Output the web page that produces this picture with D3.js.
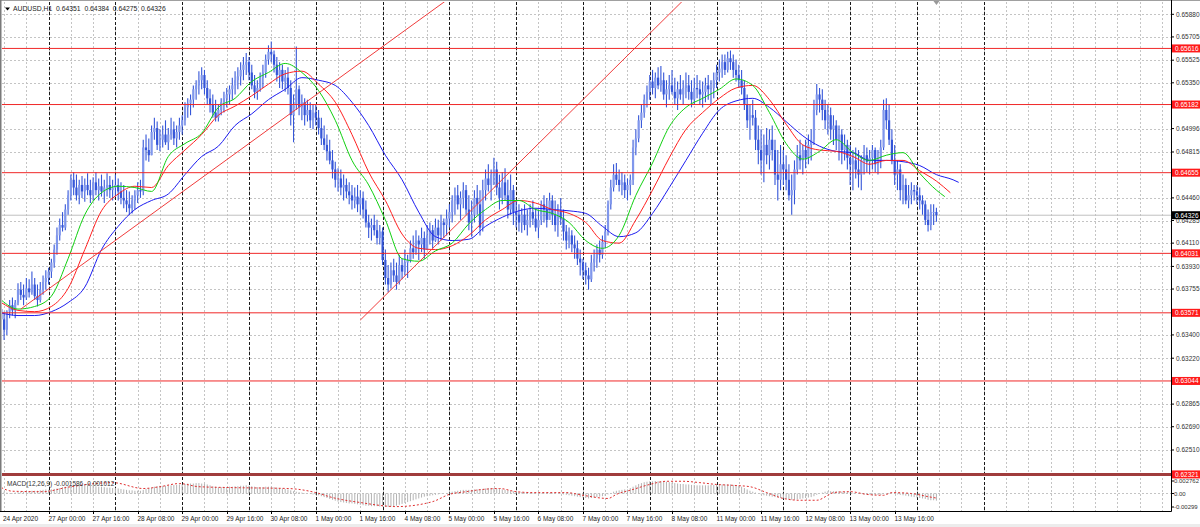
<!DOCTYPE html>
<html><head><meta charset="utf-8">
<script src="https://cdn.jsdelivr.net/npm/d3@7/dist/d3.min.js"></script>
<style>
html,body{margin:0;padding:0;background:#fff;overflow:hidden}
svg{display:block}
text{font-family:"Liberation Sans",Arial,Helvetica,sans-serif;white-space:pre;}
</style></head><body>
<script>
// ---------------- DATA ----------------
const symbolTitle = "AUDUSD,H1";
const lastQuote = ["0.64351","0.64384","0.64275","0.64326"];
const firstOpen = 0.6360;
const highs = [
0.6363,0.6358,0.6359,0.6367,0.6369,0.6367,0.6380,0.6381,0.6379,0.6384,0.6383,0.6389,0.6384,0.6379,0.6381,0.6386,0.6390,
0.6392,0.6399,0.6410,0.6423,0.6430,0.6435,0.6441,0.6452,0.6464,0.6466,0.6464,0.6460,0.6463,0.6461,0.6465,0.6460,0.6462,0.6466,0.6461,0.6464,0.6460,0.6465,0.6463,0.6460,
0.6464,0.6461,0.6458,0.6456,0.6452,0.6451,0.6448,0.6452,0.6458,0.6460,0.6491,0.6495,0.6492,0.6502,0.6508,0.6505,0.6499,0.6502,0.6506,0.6500,0.6508,0.6505,0.6502,0.6508,
0.6510,0.6520,0.6523,0.6526,0.6533,0.6537,0.6544,0.6547,0.6545,0.6537,0.6530,0.6526,0.6522,0.6518,0.6523,0.6528,0.6531,0.6533,0.6539,0.6544,0.6547,0.6551,0.6555,0.6558,
0.6555,0.6549,0.6541,0.6537,0.6543,0.6549,0.6557,0.6564,0.6567,0.6560,0.6555,0.6551,0.6549,0.6545,0.6547,0.6537,0.6526,0.6563,0.6533,0.6526,0.6523,0.6522,0.6520,0.6518,
0.6518,0.6514,0.6508,0.6502,0.6495,0.6491,0.6483,0.6474,0.6469,0.6468,0.6464,0.6461,0.6458,0.6456,0.6454,0.6456,0.6452,0.6451,0.6444,0.6433,0.6430,0.6433,0.6429,0.6425,
0.6423,0.6406,0.6394,0.6396,0.6399,0.6396,0.6402,0.6399,0.6406,0.6402,0.6413,0.6417,0.6421,0.6417,0.6423,0.6420,0.6425,0.6427,0.6425,0.6430,0.6429,0.6433,0.6430,0.6437,
0.6441,0.6448,0.6454,0.6456,0.6451,0.6458,0.6456,0.6448,0.6444,0.6452,0.6456,0.6452,0.6460,0.6468,0.6472,0.6468,0.6477,0.6474,0.6464,0.6466,0.6469,0.6460,0.6464,0.6456,
0.6444,0.6441,0.6438,0.6441,0.6437,0.6441,0.6444,0.6438,0.6437,0.6444,0.6448,0.6446,0.6450,0.6448,0.6444,0.6441,0.6446,0.6437,0.6425,0.6423,0.6421,0.6417,0.6413,0.6406,
0.6399,0.6396,0.6392,0.6402,0.6406,0.6410,0.6413,0.6417,0.6425,0.6444,0.6460,0.6472,0.6473,0.6468,0.6466,0.6464,0.6461,0.6464,0.6491,0.6499,0.6510,0.6518,0.6526,0.6533,
0.6541,0.6545,0.6543,0.6547,0.6548,0.6543,0.6537,0.6541,0.6545,0.6539,0.6536,0.6541,0.6537,0.6543,0.6541,0.6537,0.6539,0.6541,0.6537,0.6536,0.6539,0.6541,0.6537,0.6543,
0.6549,0.6553,0.6557,0.6557,0.6559,0.6560,0.6557,0.6553,0.6549,0.6545,0.6537,0.6526,0.6518,0.6522,0.6514,0.6502,0.6499,0.6495,0.6500,0.6499,0.6502,0.6491,0.6483,0.6487,
0.6483,0.6479,0.6472,0.6464,0.6475,0.6487,0.6491,0.6487,0.6491,0.6495,0.6499,0.6522,0.6534,0.6531,0.6530,0.6522,0.6518,0.6516,0.6510,0.6506,0.6502,0.6499,0.6495,0.6491,
0.6487,0.6483,0.6485,0.6483,0.6479,0.6487,0.6485,0.6483,0.6487,0.6485,0.6483,0.6491,0.6522,0.6523,0.6518,0.6499,0.6487,0.6475,0.6472,0.6464,0.6461,0.6456,0.6458,0.6456,
0.6456,0.6454,0.6448,0.6444,0.6437,0.6441,0.6441,0.64384];
const lows = [
0.6348,0.6336,0.6340,0.6353,0.6355,0.6353,0.6363,0.6367,0.6363,0.6367,0.6369,0.6371,0.6367,0.6362,0.6365,0.6371,0.6375,
0.6379,0.6384,0.6392,0.6402,0.6413,0.6420,0.6421,0.6433,0.6444,0.6448,0.6444,0.6441,0.6446,0.6443,0.6448,0.6442,0.6444,0.6448,0.6444,0.6447,0.6442,0.6447,0.6446,0.6444,
0.6447,0.6444,0.6441,0.6438,0.6435,0.6433,0.6434,0.6437,0.6442,0.6446,0.6448,0.6475,0.6474,0.6479,0.6491,0.6483,0.6482,0.6485,0.6487,0.6483,0.6491,0.6487,0.6485,0.6491,
0.6495,0.6502,0.6508,0.6510,0.6516,0.6522,0.6526,0.6530,0.6526,0.6518,0.6512,0.6508,0.6505,0.6505,0.6510,0.6512,0.6516,0.6518,0.6522,0.6526,0.6530,0.6533,0.6537,0.6541,
0.6537,0.6530,0.6523,0.6522,0.6528,0.6531,0.6539,0.6549,0.6551,0.6543,0.6536,0.6531,0.6530,0.6528,0.6526,0.6502,0.6489,0.6514,0.6510,0.6506,0.6502,0.6505,0.6500,0.6499,
0.6502,0.6495,0.6487,0.6483,0.6475,0.6472,0.6461,0.6454,0.6451,0.6448,0.6444,0.6446,0.6441,0.6437,0.6438,0.6435,0.6433,0.6430,0.6423,0.6415,0.6413,0.6417,0.6410,0.6410,
0.6394,0.6379,0.6373,0.6376,0.6381,0.6375,0.6379,0.6383,0.6386,0.6384,0.6396,0.6399,0.6402,0.6398,0.6404,0.6399,0.6406,0.6410,0.6407,0.6412,0.6410,0.6413,0.6415,0.6417,
0.6423,0.6427,0.6433,0.6437,0.6429,0.6438,0.6433,0.6421,0.6416,0.6427,0.6433,0.6417,0.6420,0.6444,0.6451,0.6444,0.6456,0.6448,0.6437,0.6441,0.6444,0.6430,0.6433,0.6425,
0.6423,0.6420,0.6419,0.6421,0.6417,0.6423,0.6425,0.6420,0.6415,0.6425,0.6427,0.6423,0.6430,0.6425,0.6420,0.6416,0.6425,0.6413,0.6406,0.6407,0.6404,0.6399,0.6394,0.6386,
0.6383,0.6379,0.6375,0.6381,0.6389,0.6392,0.6396,0.6399,0.6407,0.6417,0.6437,0.6451,0.6456,0.6451,0.6448,0.6446,0.6444,0.6448,0.6456,0.6479,0.6489,0.6500,0.6508,0.6516,
0.6522,0.6526,0.6523,0.6530,0.6528,0.6522,0.6516,0.6522,0.6526,0.6518,0.6514,0.6522,0.6518,0.6523,0.6522,0.6516,0.6518,0.6523,0.6518,0.6516,0.6520,0.6522,0.6518,0.6523,
0.6531,0.6536,0.6539,0.6541,0.6543,0.6545,0.6539,0.6536,0.6531,0.6526,0.6514,0.6500,0.6491,0.6502,0.6483,0.6472,0.6464,0.6458,0.6472,0.6468,0.6475,0.6456,0.6444,0.6452,
0.6456,0.6452,0.6444,0.6433,0.6441,0.6464,0.6468,0.6464,0.6469,0.6472,0.6475,0.6487,0.6510,0.6512,0.6506,0.6499,0.6495,0.6491,0.6487,0.6483,0.6475,0.6472,0.6475,0.6468,
0.6456,0.6452,0.6461,0.6454,0.6452,0.6464,0.6466,0.6464,0.6468,0.6466,0.6464,0.6469,0.6483,0.6499,0.6487,0.6472,0.6456,0.6452,0.6444,0.6441,0.6441,0.6438,0.6441,0.6444,
0.6441,0.6437,0.6433,0.6425,0.6420,0.6421,0.6425,0.64275];
const closes = [
0.6352,0.6344,0.6358,0.6363,0.6359,0.6365,0.6375,0.6371,0.6369,0.6376,0.6373,0.6379,0.6370,0.6367,0.6375,0.6381,0.6384,
0.6389,0.6396,0.6406,0.6417,0.6425,0.6423,0.6437,0.6448,0.6460,0.6454,0.6448,0.6456,0.6451,0.6456,0.6452,0.6448,0.6458,0.6452,0.6455,0.6451,0.6454,0.6456,0.6452,0.6454,
0.6456,0.6451,0.6446,0.6444,0.6441,0.6438,0.6444,0.6448,0.6452,0.6451,0.6485,0.6483,0.6479,0.6497,0.6500,0.6487,0.6491,0.6495,0.6489,0.6495,0.6499,0.6492,0.6497,0.6502,
0.6506,0.6516,0.6519,0.6522,0.6530,0.6533,0.6537,0.6541,0.6531,0.6523,0.6518,0.6512,0.6508,0.6514,0.6520,0.6523,0.6526,0.6530,0.6533,0.6537,0.6540,0.6545,0.6549,0.6551,
0.6543,0.6533,0.6528,0.6531,0.6539,0.6543,0.6553,0.6559,0.6557,0.6549,0.6541,0.6545,0.6536,0.6539,0.6531,0.6510,0.6518,0.6530,0.6516,0.6520,0.6510,0.6514,0.6506,0.6512,
0.6508,0.6500,0.6492,0.6487,0.6482,0.6475,0.6468,0.6460,0.6461,0.6454,0.6456,0.6451,0.6448,0.6444,0.6447,0.6441,0.6446,0.6437,0.6427,0.6423,0.6425,0.6421,0.6415,0.6420,
0.6398,0.6384,0.6379,0.6390,0.6386,0.6381,0.6394,0.6389,0.6396,0.6398,0.6407,0.6404,0.6413,0.6410,0.6415,0.6406,0.6417,0.6421,0.6413,0.6423,0.6417,0.6427,0.6425,0.6430,
0.6435,0.6444,0.6448,0.6441,0.6446,0.6452,0.6437,0.6427,0.6433,0.6446,0.6441,0.6423,0.6452,0.6461,0.6456,0.6464,0.6468,0.6454,0.6446,0.6458,0.6448,0.6437,0.6452,0.6435,
0.6433,0.6427,0.6433,0.6425,0.6429,0.6435,0.6430,0.6423,0.6429,0.6441,0.6437,0.6429,0.6444,0.6433,0.6425,0.6435,0.6430,0.6420,0.6413,0.6417,0.6410,0.6407,0.6399,0.6396,
0.6390,0.6386,0.6383,0.6396,0.6399,0.6406,0.6402,0.6412,0.6420,0.6441,0.6454,0.6464,0.6460,0.6456,0.6458,0.6452,0.6456,0.6460,0.6485,0.6492,0.6506,0.6512,0.6522,0.6528,
0.6536,0.6531,0.6539,0.6533,0.6537,0.6526,0.6530,0.6533,0.6528,0.6523,0.6530,0.6526,0.6531,0.6533,0.6528,0.6522,0.6531,0.6530,0.6526,0.6528,0.6533,0.6530,0.6531,0.6537,
0.6543,0.6546,0.6551,0.6545,0.6554,0.6551,0.6545,0.6541,0.6537,0.6531,0.6518,0.6506,0.6510,0.6508,0.6491,0.6483,0.6475,0.6487,0.6479,0.6491,0.6483,0.6464,0.6460,0.6472,
0.6468,0.6460,0.6448,0.6452,0.6468,0.6479,0.6475,0.6483,0.6477,0.6487,0.6491,0.6514,0.6526,0.6522,0.6514,0.6506,0.6510,0.6499,0.6502,0.6491,0.6495,0.6483,0.6487,0.6477,
0.6472,0.6475,0.6468,0.6464,0.6475,0.6479,0.6474,0.6477,0.6483,0.6472,0.6475,0.6485,0.6514,0.6506,0.6491,0.6475,0.6464,0.6468,0.6452,0.6456,0.6444,0.6448,0.6452,0.6451,
0.6448,0.6444,0.6441,0.6429,0.6425,0.6435,0.64351,0.64326];

// Alligator lines: [bar, price]
const jaw = [[0,0.6357],[6,0.6355],[12,0.6355],[18,0.6358],[24,0.6365],[30,0.6377],[36,0.6406],[42,0.6424],[48,0.6437],[54,0.6444],[60,0.6449],[66,0.6464],[72,0.6478],[78,0.6486],[84,0.6502],[90,0.6511],[96,0.6522],[102,0.6530],[108,0.6539],[114,0.6537],[120,0.6533],[126,0.6520],[132,0.6502],[138,0.6479],[144,0.6460],[150,0.6435],[156,0.6416],[162,0.6413],[168,0.6414],[174,0.6424],[180,0.6431],[186,0.6436],[192,0.6438],[198,0.6437],[204,0.6436],[210,0.6434],[216,0.6424],[222,0.6416],[228,0.6419],[234,0.6434],[240,0.6454],[246,0.6475],[252,0.6496],[258,0.6514],[264,0.6521],[270,0.6523],[276,0.6516],[282,0.6505],[288,0.6494],[294,0.6486],[300,0.6482],[306,0.6481],[312,0.6475],[318,0.6475],[324,0.6474],[330,0.6471],[336,0.6464],[342,0.6460],[344,0.6458]];
const teeth = [[0,0.6365],[6,0.6359],[12,0.6358],[18,0.6362],[24,0.6376],[30,0.6406],[36,0.6436],[42,0.6449],[48,0.6455],[54,0.6454],[60,0.6471],[66,0.6483],[72,0.6495],[78,0.6510],[84,0.6517],[90,0.6525],[96,0.6534],[102,0.6542],[108,0.6544],[114,0.6534],[120,0.6520],[126,0.6495],[132,0.6466],[138,0.6444],[144,0.6418],[150,0.6407],[156,0.6406],[162,0.6409],[168,0.6417],[174,0.6429],[180,0.6437],[186,0.6444],[192,0.6442],[198,0.6437],[204,0.6434],[210,0.6427],[216,0.6413],[222,0.6411],[228,0.6429],[234,0.6452],[240,0.6477],[246,0.6499],[252,0.6512],[258,0.6523],[264,0.6531],[270,0.6533],[276,0.6522],[282,0.6503],[288,0.6487],[294,0.6483],[300,0.6482],[306,0.6478],[312,0.6472],[318,0.6475],[324,0.6475],[330,0.6467],[336,0.6459],[341,0.6450]];
const lips = [[0,0.6367],[6,0.6360],[12,0.6362],[18,0.6370],[24,0.6399],[30,0.6433],[36,0.6450],[42,0.6455],[48,0.6454],[54,0.6451],[60,0.6478],[66,0.6488],[72,0.6496],[78,0.6516],[84,0.6523],[90,0.6536],[96,0.6543],[102,0.6550],[108,0.6543],[114,0.6529],[120,0.6506],[126,0.6475],[132,0.6456],[138,0.6429],[144,0.6399],[150,0.6397],[156,0.6405],[162,0.6411],[168,0.6426],[174,0.6437],[180,0.6444],[186,0.6444],[192,0.6437],[198,0.6434],[204,0.6427],[210,0.6413],[216,0.6407],[222,0.6417],[228,0.6448],[234,0.6473],[240,0.6501],[246,0.6516],[252,0.6523],[258,0.6530],[264,0.6538],[270,0.6533],[276,0.6512],[282,0.6488],[288,0.6476],[294,0.6482],[300,0.6491],[306,0.6481],[312,0.6475],[318,0.6479],[324,0.6481],[330,0.6465],[336,0.6452],[339,0.6447]];

// MACD(12,26,9) histogram, one value per bar
const macdHist = [
0.0006,0.0004,0.0002,0.0001,0.0001,0.0002,0.0003,0.0004,0.0004,0.0005,0.0005,0.0006,0.0006,0.0006,0.0007,0.0008,0.0009,
0.0008,0.0009,0.0010,0.0011,0.0012,0.0014,0.0015,0.0016,0.0017,0.0018,0.0019,0.0019,0.0019,0.0019,0.0018,0.0018,0.0017,0.0016,0.0015,0.0015,0.0014,0.0013,0.0013,0.0012,
0.0012,0.0011,0.0010,0.0009,0.0008,0.0007,0.0007,0.0006,0.0006,0.0006,0.0008,0.0010,0.0012,0.0013,0.0015,0.0016,0.0017,0.0017,0.0017,0.0018,0.0018,0.0019,0.0019,0.0020,
0.0020,0.0021,0.0022,0.0022,0.0022,0.0023,0.0023,0.0022,0.0021,0.0020,0.0018,0.0016,0.0015,0.0014,0.0014,0.0014,0.0014,0.0015,0.0015,0.0016,0.0016,0.0017,0.0017,0.0018,
0.0017,0.0016,0.0015,0.0014,0.0014,0.0014,0.0015,0.0015,0.0015,0.0014,0.0013,0.0012,0.0011,0.0010,0.0009,0.0007,0.0005,0.0004,0.0003,0.0002,0.0001,0.0000,-0.0001,-0.0002,
-0.0003,-0.0004,-0.0006,-0.0008,-0.0010,-0.0012,-0.0014,-0.0016,-0.0018,-0.0019,-0.0020,-0.0021,-0.0022,-0.0022,-0.0023,-0.0024,-0.0025,-0.0026,-0.0027,-0.0027,-0.0028,-0.0028,-0.0028,-0.0029,
-0.0029,-0.00299,-0.0030,-0.0029,-0.0028,-0.0027,-0.0025,-0.0023,-0.0021,-0.0019,-0.0017,-0.0015,-0.0013,-0.0011,-0.0009,-0.0007,-0.0006,-0.0005,-0.0004,-0.0003,-0.0002,-0.0001,0.0000,0.0001,
0.0002,0.0004,0.0005,0.0006,0.0007,0.0008,0.0008,0.0008,0.0008,0.0009,0.0009,0.0009,0.0010,0.0011,0.0012,0.0012,0.0012,0.0011,0.0010,0.0009,0.0008,0.0007,0.0006,0.0005,
0.0004,0.0003,0.0003,0.0002,0.0002,0.0001,0.0001,0.0001,0.0001,0.0001,0.0001,0.0001,0.0001,0.0001,0.0000,0.0000,-0.0001,-0.0002,-0.0003,-0.0004,-0.0005,-0.0006,-0.0007,-0.0008,
-0.0009,-0.0010,-0.0011,-0.0010,-0.0009,-0.0008,-0.0007,-0.0006,-0.0005,-0.0002,0.0001,0.0004,0.0006,0.0007,0.0008,0.0009,0.0009,0.0012,0.0015,0.0018,0.0021,0.0023,0.0025,0.0026,
0.0027,0.0027,0.002762,0.0027,0.0027,0.0026,0.0026,0.0025,0.0024,0.0023,0.0022,0.0021,0.0021,0.0020,0.0020,0.0019,0.0019,0.0018,0.0018,0.0018,0.0018,0.0018,0.0019,0.0019,
0.0019,0.0020,0.0020,0.0020,0.0020,0.0020,0.0019,0.0018,0.0017,0.0015,0.0012,0.0009,0.0006,0.0004,0.0002,0.0000,-0.0002,-0.0004,-0.0005,-0.0006,-0.0007,-0.0008,-0.0009,-0.0010,
-0.0011,-0.0012,-0.0013,-0.0014,-0.0014,-0.0013,-0.0012,-0.0011,-0.0010,-0.0009,-0.0008,-0.0006,-0.0003,0.0000,0.0002,0.0004,0.0005,0.0005,0.0005,0.0005,0.0005,0.0004,0.0004,0.0003,
0.0002,0.0001,0.0000,-0.0001,-0.0001,-0.0002,-0.0002,-0.0002,-0.0003,-0.0003,-0.0003,-0.0003,-0.0001,0.0001,0.0001,0.0000,-0.0001,-0.0002,-0.0003,-0.0004,-0.0005,-0.0006,-0.0007,-0.0008,
-0.0009,-0.0010,-0.0011,-0.0012,-0.0014,-0.0015,-0.0015,-0.001586];
// signal line: [bar, value]
const macdSignal = [[0,0.0013],[4,0.0005],[15,0.0004],[24,0.0014],[40,0.0024],[51,0.0011],[57,0.0015],[64,0.0022],[71,0.0015],[83,0.0013],[103,0.0011],[113,0.0002],[119,-0.0009],[129,-0.0020],[142,-0.0029],[155,-0.0018],[161,-0.0002],[167,0.0004],[173,0.0009],[179,0.0011],[185,0.0004],[191,0.0002],[203,0.0002],[209,-0.0004],[218,-0.0011],[221,-0.0002],[227,0.0009],[233,0.0020],[239,0.0027],[245,0.0027],[251,0.0024],[257,0.0020],[263,0.0018],[269,0.0015],[275,0.0002],[281,-0.0011],[287,-0.0015],[293,-0.0015],[297,-0.0004],[299,0.0002],[305,0.0004],[311,-0.0002],[317,-0.0004],[320,0.0002],[327,0.0000],[333,-0.0007],[336,-0.001012]];

const levelPrices = [0.65616,0.65182,0.64655,0.64031,0.63571,0.63044,0.62321];
const levelLabels = ["0.65616","0.65182","0.64655","0.64031","0.63571","0.63044","0.62321"];
const trendStartBars = [7,129];
const trendStartPrices = [0.6360,0.63515];
const trendEndBars = [137,237];
const trendEndPrices = [0.6563,0.65817];
const currentPrice = 0.64326;
const currentLabel = "0.64326";
const priceTickLabels = ["0.65880","0.65705","0.65525","0.65350","0.64996","0.64815","0.64460","0.64285","0.64110","0.63930","0.63755","0.63400","0.63220","0.62865","0.62690","0.62510"];
const macdTickLabels = ["0.002762","0.00","-0.00299"];
const macdTitle = "MACD(12,26,9) -0.001586 -0.001012";
const firstDateLabel = "24 Apr 2020";
const timeLabels = ["27 Apr 00:00","27 Apr 16:00","28 Apr 08:00","29 Apr 00:00","29 Apr 16:00","30 Apr 08:00","1 May 00:00","1 May 16:00","4 May 08:00","5 May 00:00","5 May 16:00","6 May 08:00","7 May 00:00","7 May 16:00","8 May 08:00","11 May 00:00","11 May 16:00","12 May 08:00","13 May 00:00","13 May 16:00"];
const timeLabelBars = [17,33,49,65,81,97,113,129,145,161,177,193,209,225,241,257,273,289,305,321];
const dayStartBars = [17,41,65,89,113,137,161,185,209,233,257,281,305,329,353];

// ---------------- DRAW ----------------
const W = 1200, H = 527;
const plotR = 1171, mainTop = 2, macdTop = 476, macdBot = 511;
const svg = d3.select("body").append("svg").attr("width", W).attr("height", H);
const x = d3.scaleLinear().domain([0, 420]).range([1.3, 1170.2]);
const y = d3.scaleLinear().domain([0.6588, 0.6251]).range([14.3, 450]);
const ym = d3.scaleLinear().domain([-0.00299, 0.002762]).range([507, 481]);

svg.append("rect").attr("width", W).attr("height", H).attr("fill", "#fff");
const defs = svg.append("defs");
defs.append("clipPath").attr("id", "cm").append("rect").attr("x", 2).attr("y", mainTop).attr("width", plotR - 2).attr("height", 474 - mainTop);
defs.append("clipPath").attr("id", "cd").append("rect").attr("x", 2).attr("y", macdTop).attr("width", plotR - 2).attr("height", macdBot - macdTop);

// light vertical grid
const gridBars = d3.range(1, 421, 8);
svg.append("g").selectAll("line").data(gridBars).join("line")
  .attr("x1", d => Math.round(x(d)) + 0.5).attr("x2", d => Math.round(x(d)) + 0.5)
  .attr("y1", mainTop).attr("y2", macdBot)
  .attr("stroke", "#c4c4c4").attr("stroke-dasharray", "2,2");
// light horizontal grid
svg.append("g").selectAll("line").data(priceTickLabels).join("line")
  .attr("x1", 2).attr("x2", plotR)
  .attr("y1", d => Math.round(y(+d)) + 0.5).attr("y2", d => Math.round(y(+d)) + 0.5)
  .attr("stroke", "#c4c4c4").attr("stroke-dasharray", "2,2");
svg.append("line").attr("x1", 2).attr("x2", plotR).attr("y1", Math.round(ym(0)) + 0.5).attr("y2", Math.round(ym(0)) + 0.5)
  .attr("stroke", "#c4c4c4").attr("stroke-dasharray", "2,2");
// day separators
svg.append("g").selectAll("line").data(dayStartBars).join("line")
  .attr("x1", d => Math.round(x(d)) + 0.5).attr("x2", d => Math.round(x(d)) + 0.5)
  .attr("y1", mainTop).attr("y2", macdBot)
  .attr("stroke", "#1a1a1a").attr("stroke-dasharray", "3,2");

// current price line
svg.append("line").attr("x1", 2).attr("x2", plotR).attr("y1", y(currentPrice)).attr("y2", y(currentPrice))
  .attr("stroke", "#c0c0c0").attr("stroke-width", 1);

// candles
const gm = svg.append("g").attr("clip-path", "url(#cm)");
const bars = closes.map((c, i) => ({ i, o: i ? closes[i - 1] : firstOpen, h: highs[i], l: lows[i], c }));
const blue = "#3556d8";
gm.append("g").selectAll("line").data(bars).join("line")
  .attr("x1", d => x(d.i)).attr("x2", d => x(d.i))
  .attr("y1", d => y(Math.max(d.h, d.o, d.c))).attr("y2", d => y(Math.min(d.l, d.o, d.c)))
  .attr("stroke", blue).attr("stroke-width", 1.1);
gm.append("g").selectAll("rect").data(bars).join("rect")
  .attr("x", d => x(d.i) - 1.1).attr("width", 2.2)
  .attr("y", d => y(Math.max(d.o, d.c)))
  .attr("height", d => Math.max(1, Math.abs(y(d.o) - y(d.c))))
  .attr("fill", d => d.c >= d.o ? "#8097ec" : blue);

// alligator
const ln = d3.line().x(d => x(d[0])).y(d => y(d[1])).curve(d3.curveMonotoneX);
[[jaw, "#1c1cf0"], [teeth, "#ff2020"], [lips, "#10d010"]].forEach(([d, c]) => {
  gm.append("path").attr("d", ln(d)).attr("fill", "none").attr("stroke", c).attr("stroke-width", 1);
});

// trendlines (rays)
trendStartBars.forEach((b1, k) => {
  const p1 = trendStartPrices[k], b2 = trendEndBars[k], p2 = trendEndPrices[k];
  const bEnd = 420, pEnd = p1 + (p2 - p1) * (bEnd - b1) / (b2 - b1);
  gm.append("line").attr("x1", x(b1)).attr("y1", y(p1)).attr("x2", x(bEnd)).attr("y2", y(pEnd))
    .attr("stroke", "#f03c3c").attr("stroke-width", 1);
});

// horizontal levels
levelPrices.forEach((p, k) => {
  const last = k === levelPrices.length - 1;
  svg.append("line").attr("x1", 2).attr("x2", plotR).attr("y1", y(p)).attr("y2", y(p))
    .attr("stroke", last ? "#a03c3c" : "#f02828").attr("stroke-width", last ? 3 : 1);
});

// MACD
const gd = svg.append("g").attr("clip-path", "url(#cd)");
gd.append("g").selectAll("line").data(macdHist).join("line")
  .attr("x1", (d, i) => x(i)).attr("x2", (d, i) => x(i))
  .attr("y1", ym(0)).attr("y2", d => ym(d))
  .attr("stroke", "#b4b4b4").attr("stroke-width", 1);
gd.append("path").attr("d", d3.line().x(d => x(d[0])).y(d => ym(d[1])).curve(d3.curveMonotoneX)(macdSignal))
  .attr("fill", "none").attr("stroke", "#e03030").attr("stroke-width", 1).attr("stroke-dasharray", "2,2");
svg.append("text").attr("x", 7).attr("y", 486).attr("font-size", 6.5).attr("fill", "#333").text(macdTitle);

// frame
svg.append("rect").attr("x", 0).attr("y", 0).attr("width", W).attr("height", 1).attr("fill", "#a0a0a0");
svg.append("rect").attr("x", 0).attr("y", 0).attr("width", 1.5).attr("height", macdBot).attr("fill", "#7a7a7a");
svg.append("line").attr("x1", plotR + 0.5).attr("x2", plotR + 0.5).attr("y1", 0).attr("y2", macdBot + 0.5).attr("stroke", "#000");
svg.append("line").attr("x1", 0).attr("x2", plotR + 0.5).attr("y1", macdBot + 0.5).attr("y2", macdBot + 0.5).attr("stroke", "#000");
svg.append("rect").attr("x", 0).attr("y", 524).attr("width", W).attr("height", 3).attr("fill", "#ececec");

// price axis
const ax = svg.append("g").attr("font-size", 6.5).attr("fill", "#333");
priceTickLabels.forEach(t => {
  const yy = y(+t);
  ax.append("line").attr("x1", plotR).attr("x2", plotR + 3).attr("y1", yy).attr("y2", yy).attr("stroke", "#000");
  ax.append("text").attr("x", 1176).attr("y", yy + 2.3).text(t);
});
macdTickLabels.forEach(t => {
  const yy = ym(+t);
  ax.append("line").attr("x1", plotR).attr("x2", plotR + 3).attr("y1", yy).attr("y2", yy).attr("stroke", "#000");
  ax.append("text").attr("x", 1174).attr("y", yy + 2.2).attr("font-size", 6).text(t);
});
levelPrices.forEach((p, k) => {
  const yy = y(p);
  ax.append("rect").attr("x", plotR + 1).attr("y", yy - 4).attr("width", W - plotR - 1).attr("height", 8).attr("fill", "#ff1a1a");
  ax.append("text").attr("x", 1175).attr("y", yy + 2.3).attr("fill", "#fff").text(levelLabels[k]);
});
{
  const yy = y(currentPrice);
  ax.append("rect").attr("x", plotR + 1).attr("y", yy - 4).attr("width", W - plotR - 1).attr("height", 8).attr("fill", "#000");
  ax.append("text").attr("x", 1175).attr("y", yy + 2.3).attr("fill", "#fff").text(currentLabel);
}

// time axis
const tx = svg.append("g").attr("font-size", 6.5).attr("fill", "#222");
tx.append("text").attr("x", 3).attr("y", 521).text(firstDateLabel);
timeLabels.forEach((t, k) => {
  const xx = Math.round(x(timeLabelBars[k])) + 0.5;
  tx.append("line").attr("x1", xx).attr("x2", xx).attr("y1", macdBot).attr("y2", macdBot + 3).attr("stroke", "#000");
  tx.append("text").attr("x", xx - 1).attr("y", 521).text(t);
});

// title
svg.append("path").attr("d", "M5,7.5L10,7.5L7.5,10.5Z").attr("fill", "#000");
svg.append("text").attr("x", 13).attr("y", 11).attr("font-size", 6.8).attr("fill", "#222")
  .text(symbolTitle + "  " + lastQuote.join("  "));
// chart shift marker
const lastX = x(closes.length - 1);
svg.append("path").attr("d", `M${lastX - 3},1L${lastX + 3},1L${lastX},5Z`).attr("fill", "#9a9a9a");
</script>
</body></html>
